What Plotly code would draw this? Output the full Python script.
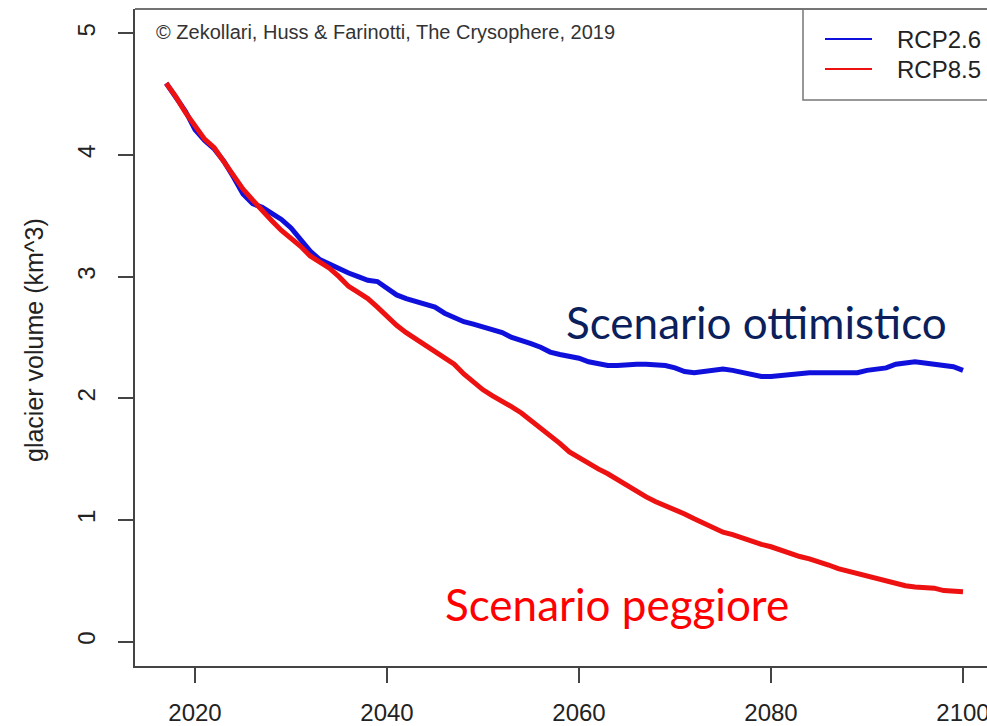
import plotly.graph_objects as go

years = list(range(2017, 2101))

rcp26 = [4.59, 4.48, 4.36, 4.21, 4.12, 4.05, 3.95, 3.82, 3.68, 3.60,
         3.57, 3.52, 3.47, 3.40, 3.30, 3.21, 3.14, 3.10, 3.07, 3.03,
         3.00, 2.97, 2.96, 2.90, 2.85, 2.82, 2.80, 2.78, 2.75, 2.70,
         2.66, 2.63, 2.61, 2.59, 2.57, 2.54, 2.50, 2.48, 2.45, 2.42,
         2.38, 2.36, 2.35, 2.33, 2.30, 2.28, 2.27, 2.27, 2.28, 2.28,
         2.28, 2.28, 2.27, 2.25, 2.22, 2.21, 2.22, 2.23, 2.24, 2.23,
         2.21, 2.19, 2.18, 2.18, 2.19, 2.19, 2.20, 2.21, 2.21, 2.21,
         2.20, 2.20, 2.21, 2.23, 2.24, 2.25, 2.28, 2.29, 2.30, 2.29,
         2.28, 2.28, 2.26, 2.23]

rcp85 = [4.59, 4.48, 4.35, 4.24, 4.13, 4.06, 3.95, 3.83, 3.72, 3.63,
         3.54, 3.46, 3.38, 3.32, 3.25, 3.17, 3.12, 3.07, 3.00, 2.92,
         2.87, 2.82, 2.75, 2.67, 2.60, 2.54, 2.49, 2.44, 2.38, 2.33,
         2.28, 2.20, 2.13, 2.07, 2.02, 1.98, 1.93, 1.88, 1.82, 1.76,
         1.70, 1.63, 1.56, 1.51, 1.46, 1.42, 1.38, 1.33, 1.29, 1.24,
         1.19, 1.15, 1.12, 1.08, 1.05, 1.01, 0.97, 0.94, 0.90, 0.88,
         0.85, 0.82, 0.80, 0.78, 0.75, 0.73, 0.70, 0.68, 0.66, 0.63,
         0.60, 0.58, 0.56, 0.53, 0.51, 0.49, 0.47, 0.46, 0.45, 0.45,
         0.44, 0.42, 0.41, 0.41]

x_ticks = [2020, 2040, 2060, 2080, 2100]
y_ticks = [0, 1, 2, 3, 4, 5]
series_names = ["RCP2.6", "RCP8.5"]
series_colors = ["#1010dd", "#ee1111"]

W, H = 987, 726
ML, MR, MT, MB = 135, 0, 9, 60
PW, PH = W - ML - MR, H - MT - MB

def px_x(p):
    return (p - ML) / PW

def px_y(p):
    return (H - MB - p) / PH

RFONT = "Liberation Sans, Arial, Helvetica, sans-serif"
AXC = "#444444"

fig = go.Figure()
fig.add_trace(go.Scatter(x=years, y=rcp26, mode="lines", name=series_names[0],
                         line=dict(color=series_colors[0], width=5), showlegend=False))
fig.add_trace(go.Scatter(x=years, y=rcp85, mode="lines", name=series_names[1],
                         line=dict(color=series_colors[1], width=5), showlegend=False))

fig.update_layout(
    width=W, height=H,
    margin=dict(l=ML, r=MR, t=MT, b=MB, autoexpand=False),
    paper_bgcolor="white", plot_bgcolor="white",
    font=dict(family=RFONT, color="#222222"),
    xaxis=dict(range=[2013.75, 2102.5], tickvals=x_ticks, ticks="outside", ticklen=15,
               tickcolor=AXC, tickwidth=1.5, showline=True, linecolor=AXC, linewidth=1.5,
               showgrid=False, zeroline=False, ticklabelstandoff=9,
               ticklabeloverflow="allow", automargin=False,
               tickfont=dict(size=24, color="#222222")),
    yaxis=dict(range=[-0.2, 5.2], tickvals=y_ticks, ticks="outside", ticklen=15,
               tickcolor=AXC, tickwidth=1.5, showline=True, linecolor=AXC, linewidth=1.5,
               showgrid=False, zeroline=False, tickangle=-90, ticklabelstandoff=14,
               automargin=False,
               tickfont=dict(size=24, color="#222222")),
)

# top border of the box (right edge lies outside the picture)
fig.add_shape(type="line", xref="paper", yref="paper", x0=0, x1=1.02, y0=1, y1=1,
              line=dict(color=AXC, width=1.5))

# legend box
fig.add_shape(type="rect", xref="paper", yref="paper",
              x0=px_x(803), x1=1.05, y0=px_y(100), y1=1,
              line=dict(color="#777777", width=1.5), fillcolor="rgba(0,0,0,0)")
for i, (nm, col, yp) in enumerate(zip(series_names, series_colors, [39, 69])):
    fig.add_shape(type="line", xref="paper", yref="paper",
                  x0=px_x(825), x1=px_x(872), y0=px_y(yp), y1=px_y(yp),
                  line=dict(color=col, width=2))
    fig.add_annotation(xref="paper", yref="paper", x=px_x(895), y=px_y(yp),
                       xanchor="left", yanchor="middle", text=nm, showarrow=False,
                       font=dict(size=24, color="#222222", family=RFONT))

# y-axis title
fig.add_annotation(xref="paper", yref="paper", x=px_x(34), y=px_y(340),
                   xanchor="center", yanchor="middle", textangle=-90,
                   text="glacier volume (km^3)", showarrow=False,
                   font=dict(size=25, color="#222222", family=RFONT))

# copyright
fig.add_annotation(xref="paper", yref="paper", x=px_x(154), y=px_y(32),
                   xanchor="left", yanchor="middle",
                   text="© Zekollari, Huss & Farinotti, The Crysophere, 2019",
                   showarrow=False, font=dict(size=20, color="#333333", family=RFONT))

# scenario labels
fig.add_annotation(xref="paper", yref="paper", x=px_x(756), y=px_y(322),
                   xanchor="center", yanchor="middle", text="Scenario ottimistico",
                   showarrow=False, font=dict(size=44, color="#0a1f5c", family="Lato, Carlito, sans-serif"))
fig.add_annotation(xref="paper", yref="paper", x=px_x(617), y=px_y(604),
                   xanchor="center", yanchor="middle", text="Scenario peggiore",
                   showarrow=False, font=dict(size=44, color="#ff0000", family="Lato, Carlito, sans-serif"))

fig.write_html("out.html", config={"displayModeBar": False},
               post_script="document.body.style.margin='0px';document.body.style.overflow='hidden';")
